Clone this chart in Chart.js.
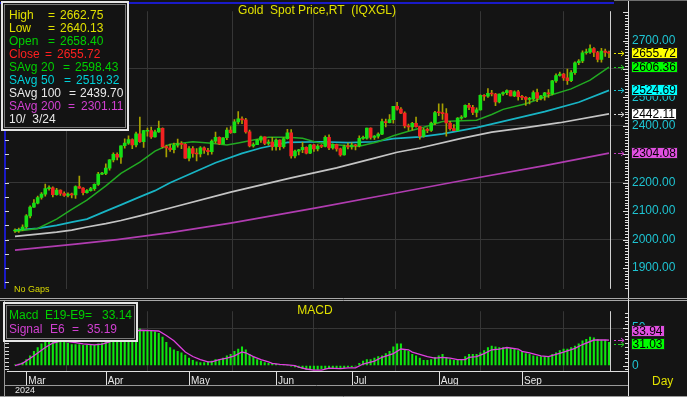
<!DOCTYPE html>
<html><head><meta charset="utf-8">
<script src="https://cdn.jsdelivr.net/npm/chart.js@4.4.1/dist/chart.umd.min.js"></script>
<style>
html,body{margin:0;padding:0;background:#141414;overflow:hidden;}
#wrap{position:relative;width:687px;height:397px;background:#141414;}
#c1{position:absolute;left:0;top:0;}
#c2{position:absolute;left:0;top:300px;}
</style></head><body>
<div id="wrap"><canvas id="c1" width="687" height="300"></canvas><canvas id="c2" width="687" height="97"></canvas></div>
<script>
// ---------------- DATA ----------------
const dates = ['2/27','2/28','2/29',
 '3/1','3/4','3/5','3/6','3/7','3/8','3/11','3/12','3/13','3/14','3/15','3/18','3/19','3/20','3/21','3/22','3/25','3/26','3/27','3/28','3/29',
 '4/1','4/2','4/3','4/4','4/5','4/8','4/9','4/10','4/11','4/12','4/15','4/16','4/17','4/18','4/19','4/22','4/23','4/24','4/25','4/26','4/29','4/30',
 '5/1','5/2','5/3','5/6','5/7','5/8','5/9','5/10','5/13','5/14','5/15','5/16','5/17','5/20','5/21','5/22','5/23','5/24','5/27','5/28','5/29','5/30','5/31',
 '6/3','6/4','6/5','6/6','6/7','6/10','6/11','6/12','6/13','6/14','6/17','6/18','6/19','6/20','6/21','6/24','6/25','6/26','6/27','6/28',
 '7/1','7/2','7/3','7/4','7/5','7/8','7/9','7/10','7/11','7/12','7/15','7/16','7/17','7/18','7/19','7/22','7/23','7/24','7/25','7/26','7/29','7/30','7/31',
 '8/1','8/2','8/5','8/6','8/7','8/8','8/9','8/12','8/13','8/14','8/15','8/16','8/19','8/20','8/21','8/22','8/23','8/26','8/27','8/28','8/29','8/30',
 '9/2','9/3','9/4','9/5','9/6','9/9','9/10','9/11','9/12','9/13','9/16','9/17','9/18','9/19','9/20','9/23','9/24','9/25','9/26','9/27','9/30',
 '10/1','10/2','10/3'];

const opens = [2030,2031,2034,
 2044,2083,2114,2128,2148,2160,2179,2182,2158,2174,2162,2155,2160,2157,2186,2181,2165,2172,2179,2194,2230,
 2233,2251,2280,2300,2290,2330,2339,2352,2333,2372,2344,2381,2383,2361,2379,2391,2327,2322,2316,2332,2337,2335,
 2286,2320,2303,2301,2323,2314,2309,2346,2360,2336,2358,2385,2376,2414,2425,2421,2379,2329,2334,2350,2361,2338,2343,
 2327,2350,2327,2355,2375,2294,2311,2316,2324,2304,2333,2319,2329,2328,2360,2322,2334,2319,2298,2327,
 2326,2332,2330,2356,2357,2392,2359,2364,2371,2415,2411,2422,2469,2459,2445,2400,2396,2409,2397,2364,2386,2384,2410,
 2447,2446,2443,2410,2390,2383,2427,2431,2472,2465,2447,2456,2507,2504,2514,2512,2484,2512,2517,2524,2505,2520,
 2503,2500,2493,2495,2517,2497,2506,2516,2512,2558,2577,2582,2569,2559,2587,2622,2628,2657,2659,2672,2658,
 2634,2663,2658.40];
const highs = [2038,2040,2052,
 2088,2119,2141,2153,2165,2195,2189,2185,2180,2175,2168,2164,2163,2189,2223,2183,2176,2184,2196,2236,2236,
 2266,2281,2305,2305,2330,2354,2365,2354,2378,2431,2384,2392,2396,2385,2417,2393,2332,2335,2339,2353,2345,2338,
 2327,2327,2320,2327,2326,2321,2351,2378,2361,2359,2393,2397,2422,2450,2432,2426,2385,2340,2352,2364,2361,2351,2360,
 2354,2351,2359,2388,2387,2315,2317,2342,2326,2335,2335,2334,2334,2365,2368,2337,2336,2322,2332,2339,
 2340,2335,2365,2364,2392,2393,2366,2375,2424,2424,2440,2469,2483,2464,2449,2406,2412,2431,2398,2391,2393,2413,2451,
 2477,2477,2461,2416,2404,2429,2436,2474,2479,2472,2463,2509,2510,2531,2525,2514,2513,2520,2527,2525,2523,2525,
 2507,2503,2500,2523,2529,2507,2518,2528,2560,2583,2589,2585,2600,2594,2625,2633,2664,2670,2685,2675,2662,
 2673,2670,2662.75];
const lows = [2025,2025,2031,
 2039,2076,2113,2125,2142,2153,2174,2150,2156,2155,2152,2150,2146,2145,2180,2157,2163,2170,2173,2190,2228,
 2228,2244,2273,2280,2268,2321,2335,2320,2326,2342,2324,2364,2356,2360,2377,2322,2291,2310,2305,2325,2320,2285,
 2277,2290,2277,2291,2303,2298,2300,2340,2334,2336,2351,2373,2375,2407,2408,2374,2326,2325,2334,2342,2334,2332,2314,
 2314,2315,2321,2353,2286,2287,2298,2306,2301,2302,2310,2312,2323,2326,2316,2318,2311,2293,2297,2319,
 2318,2315,2326,2352,2353,2353,2352,2357,2369,2396,2410,2409,2455,2443,2393,2384,2385,2395,2353,2360,2376,2380,2404,
 2436,2423,2364,2385,2382,2382,2423,2430,2457,2439,2431,2455,2489,2500,2505,2471,2481,2507,2510,2505,2503,2490,
 2492,2472,2477,2489,2485,2491,2490,2500,2509,2553,2575,2560,2546,2555,2581,2615,2622,2652,2655,2643,2625,
 2624,2644,2640.13];
const closes = [2031,2034,2044,
 2083,2114,2128,2148,2160,2179,2182,2158,2174,2162,2155,2160,2157,2186,2181,2165,2172,2179,2194,2230,2233,
 2251,2280,2300,2290,2330,2339,2352,2333,2372,2344,2383,2383,2361,2379,2391,2327,2322,2316,2332,2337,2335,2286,
 2320,2303,2301,2323,2314,2309,2346,2360,2336,2358,2385,2376,2414,2425,2421,2379,2329,2334,2350,2361,2338,2343,2327,
 2350,2327,2355,2375,2294,2311,2316,2324,2304,2333,2319,2329,2328,2360,2322,2334,2319,2298,2327,2326,
 2332,2330,2356,2357,2392,2359,2364,2371,2415,2411,2422,2469,2459,2445,2400,2396,2409,2397,2364,2386,2384,2410,2447,
 2446,2443,2410,2390,2383,2427,2431,2472,2465,2447,2456,2507,2504,2514,2512,2484,2512,2517,2524,2505,2520,2503,
 2500,2493,2495,2517,2497,2506,2516,2512,2558,2577,2582,2569,2559,2587,2622,2628,2657,2659,2672,2658,2634,
 2663,2658,2655.72];

// moving averages, read as [bar index, value]
const ma20 = [[0,2028],[6,2039],[11,2072],[15,2106],[19,2139],[24,2189],[28,2233],[33,2272],[37,2311],[41,2335],[44,2339],[47,2344],[52,2339],[56,2333],[59,2340],[63,2350],[67,2360],[72,2360],[76,2356],[80,2341],[84,2334],[88,2330],[91,2328],[96,2344],[100,2365],[104,2381],[108,2395],[113,2415],[118,2418],[122,2420],[126,2440],[129,2458],[135,2478],[141,2506],[147,2530],[152,2561],[157,2606.36]];
const ma50 = [[0,2033],[6,2039],[11,2050],[15,2061],[19,2072],[24,2100],[28,2122],[33,2150],[37,2172],[41,2200],[47,2235],[53,2270],[60,2303],[65,2322],[72,2342],[81,2344],[88,2341],[95,2344],[100,2355],[107,2361],[113,2372],[122,2394],[131,2422],[140,2450],[149,2483],[157,2524.69]];
const ma100 = [[0,2011],[6,2019],[11,2026],[15,2033],[19,2044],[24,2056],[28,2067],[33,2083],[41,2111],[57,2167],[73,2217],[85,2252],[94,2283],[101,2307],[107,2322],[118,2356],[126,2378],[135,2394],[144,2411],[157,2442.11]];
const ma200 = [[0,1963],[16,1984],[27,2000],[41,2024],[57,2058],[80,2112],[100,2162],[120,2212],[140,2260],[157,2304.08]];

// MACD histogram (one per bar) and signal line [bar index, value]
const macd = [1,2,4,8,13,19,24,29,34,37, 36,36,35,32,30,28,28,28,27,27, 27,27,29,30,32,36,40,41,45,48, 51,50,52,49,
 46,46,46,45,43,38,31,24,21,19, 17,14,10,7,5,4,4,5,6,8, 8,10,13,15,19,22,25,21,15,12, 8,6,4,3,3,2,1,1,0,-1, -2,-3,-4,-5,-5,-5,-5,-4,-4,-4,
 -4,-3,-4,-3,-2,-2,-1,
 3,6,8,8,10,12,13,16,19,25, 29,29,21,19,15,13,10,7,7,8, 11,13,15,11,8,7,8,8,12,15, 15,15,17,20,24,26,25,24,24,24, 23,22,20,18,16,15,13,12,12,12, 12,15,17,20,22,22,24,26,29,33, 35,38,37,35,34,34,31.03];
const signal = [[0,0],[2,3],[5,13],[8,24],[10,30],[12,32.5],[14,32],[16,30.5],[18,29],[21,27.5],[23,28.5],[25,31.5],[27,36],[29,41],[31,45],[33,47],[36,46.5],[38,46],[40,40],[42,33],[44,23],[45,18],[47,12],[49,8],[51,5],[52,5],[54,8],[56,10],[58,13],[60,18],[61,17],[63,12],[65,8],[67,5],[68,3],[70,1.5],[72,1],[74,0],[75,-2],[77,-4.6],[79,-6],[81,-6],[83,-3.5],[86,-4],[88,-3],[90,-3],[92,2],[95,6],[97,11],[100,16],[102,22],[104,21],[105,18],[107,15],[109,12],[111,10],[113,11],[115,10],[117,8],[119,8],[120,11],[122,12],[124,16],[126,21],[128,22],[130,24],[133,22],[134,19],[136,17],[139,13],[141,12],[143,15],[145,18],[148,23],[150,28],[153,34],[156,34],[157,33.94]];

// tick labels / text values
const priceTicks = [1900,2000,2100,2200,2300,2400,2500,2600,2700];
const macdTicks = [0,50];
const monthNums = [3,4,5,6,7,8,9];
const monthNames = ['Mar','Apr','May','Jun','Jul','Aug','Sep'];
const yearLabel = '2024';
const lastValues = [2655.72, 2606.36, 2524.69, 2442.11, 2304.08];
const legendValues = ['2662.75','2640.13','2658.40','2655.72','2598.43','2519.32','2439.70','2301.11'];
const legendDate = '10/  3/24';
const macdLegendValues = ['33.14','35.19'];
const macdLast = [33.94, 31.03];

// ---------------- RENDER ----------------
const FONT = "'Liberation Sans', Arial, Helvetica, sans-serif";
Chart.defaults.font.family = FONT;
const N = dates.length;
const monthIdx = monthNums.map(m => dates.findIndex(d => +d.split('/')[0] === m));
const X_MIN = -2.1145, X_MAX = 162.022;
const toPts = arr => arr.map(([x, y]) => ({x, y}));
const GRID = '#363636';
const YEL = '#e0e000', GRN = '#00d000', RED = '#ff2020', CYN = '#00d0d8', WHT = '#e8e8e8', MAG = '#d040d0';

function legendBox(ctx, x0, y0, x1, y1) {
  ctx.fillStyle = '#131313'; ctx.fillRect(x0, y0, x1 - x0, y1 - y0);
  ctx.strokeStyle = '#e6e6e6'; ctx.lineWidth = 2; ctx.strokeRect(x0 + 1, y0 + 1, x1 - x0 - 2, y1 - y0 - 2);
  ctx.strokeStyle = '#7a7a7a'; ctx.lineWidth = 1; ctx.strokeRect(x0 + 3.5, y0 + 3.5, x1 - x0 - 7, y1 - y0 - 7);
}
function drawRows(ctx, rows, y0, dy) {
  ctx.font = '12px ' + FONT; ctx.textAlign = 'left'; ctx.textBaseline = 'middle';
  rows.forEach((r, k) => {
    ctx.fillStyle = r.c;
    r.parts.forEach(([t, x]) => ctx.fillText(t, x, y0 + k * dy));
  });
}
function valBox(ctx, text, yc, bg) {
  ctx.font = '12px ' + FONT;
  const w = Math.ceil(ctx.measureText(text).width) + 3, h = 12;
  const top = Math.round(yc - 6);
  ctx.fillStyle = bg; ctx.fillRect(631, top, w, h);
  ctx.strokeStyle = '#202020'; ctx.lineWidth = 1; ctx.strokeRect(631.5, top + 0.5, w - 1, h - 1);
  ctx.fillStyle = '#000'; ctx.textAlign = 'left'; ctx.textBaseline = 'middle';
  ctx.fillText(text, 632.5, top + 6.5);
}
function arrow(ctx, x, y, color) {
  const yy = Math.round(y) + 0.5;
  ctx.strokeStyle = color; ctx.lineWidth = 1;
  ctx.beginPath(); ctx.moveTo(x - 4, yy); ctx.lineTo(x - 2, yy); ctx.stroke();
  ctx.beginPath(); ctx.moveTo(x, yy); ctx.lineTo(x + 6, yy); ctx.stroke();
  ctx.beginPath(); ctx.moveTo(x + 3, yy - 2.5); ctx.lineTo(x + 6, yy); ctx.lineTo(x + 3, yy + 2.5); ctx.stroke();
}

const mainDeco = {
  id: 'mainDeco',
  afterDraw(chart) {
    const {ctx, chartArea: a, scales: {x, y}} = chart;
    ctx.save();
    // blue panel frame
    ctx.fillStyle = '#1a1ac8';
    ctx.fillRect(0, 2, 614, 2);
    ctx.fillRect(4, 2, 2, a.bottom - 2);
    // left ticks
    ctx.strokeStyle = '#d8d8d8'; ctx.lineWidth = 1;
    for (let v = 1850; v <= 2800; v += 50) {
      const py = Math.round(y.getPixelForValue(v)) + 0.5;
      ctx.beginPath(); ctx.moveTo(5, py); ctx.lineTo(9, py); ctx.stroke();
    }
    // right axis line full height + minor ticks
    ctx.strokeStyle = '#e0e0e0';
    ctx.beginPath(); ctx.moveTo(628.5, 0); ctx.lineTo(628.5, 300); ctx.stroke();
    for (let v = 1830; v <= 2800; v += 10) {
      const py = Math.round(y.getPixelForValue(v)) + 0.5;
      const len = v % 100 === 0 ? 5 : 3;
      ctx.beginPath(); ctx.moveTo(628 - len, py); ctx.lineTo(628, py); ctx.stroke();
    }
    // separator lines
    ctx.strokeStyle = '#a8a8a8';
    ctx.beginPath(); ctx.moveTo(0, 298.5); ctx.lineTo(687, 298.5); ctx.stroke();
    ctx.strokeStyle = '#707070';
    ctx.beginPath(); ctx.moveTo(614, 0.5); ctx.lineTo(687, 0.5); ctx.stroke();
    // cursor line at last bar
    const cx = Math.round(x.getPixelForValue(N - 1)) + 1.5;
    ctx.strokeStyle = '#d0d0d0';
    ctx.beginPath(); ctx.moveTo(cx, a.top); ctx.lineTo(cx, a.bottom); ctx.stroke();
    // arrows + value boxes
    const cols = ['#e8e800', '#22cc22', '#18c0d0', '#d8d8d8', '#c040c0'];
    const boxCols = ['#ffff00', '#00ff00', '#00ffff', '#ffffff', '#e050e0'];
    lastValues.forEach((v, i) => {
      const py = y.getPixelForValue(v);
      arrow(ctx, 618, py, cols[i]);
    });
    lastValues.forEach((v, i) => {
      valBox(ctx, v.toFixed(2), y.getPixelForValue(v), boxCols[i]);
    });
    // legend box
    legendBox(ctx, 1, 1, 129, 131);
    drawRows(ctx, [
      {c: YEL, parts: [['High', 9], ['=', 48], [legendValues[0], 60]]},
      {c: YEL, parts: [['Low', 9], ['=', 48], [legendValues[1], 60]]},
      {c: GRN, parts: [['Open', 9], ['=', 48], [legendValues[2], 60]]},
      {c: RED, parts: [['Close', 9], ['=', 45], [legendValues[3], 57]]},
      {c: GRN, parts: [['SAvg', 9], ['20', 41], ['=', 63], [legendValues[4], 75]]},
      {c: CYN, parts: [['SAvg', 9], ['50', 41], ['=', 64], [legendValues[5], 76]]},
      {c: WHT, parts: [['SAvg', 9], ['100', 41], ['=', 69], [legendValues[6], 80]]},
      {c: MAG, parts: [['SAvg', 9], ['200', 41], ['=', 68], [legendValues[7], 81]]},
      {c: WHT, parts: [[legendDate, 9]]}
    ], 16, 13);
    // title
    ctx.font = '12px ' + FONT; ctx.fillStyle = YEL; ctx.textAlign = 'center'; ctx.textBaseline = 'middle';
    ctx.fillText('Gold  Spot Price,RT  (IQXGL)', 317, 11);
    // no gaps
    ctx.font = '9px ' + FONT; ctx.textAlign = 'left'; ctx.fillStyle = '#d8d800';
    ctx.fillText('No Gaps', 14, 290);
    ctx.restore();
  }
};

const macdDeco = {
  id: 'macdDeco',
  afterDraw(chart) {
    const {ctx, chartArea: a, scales: {x, y}} = chart;
    ctx.save();
    ctx.lineWidth = 1;
    // top separator
    ctx.strokeStyle = '#a8a8a8';
    ctx.beginPath(); ctx.moveTo(0, 0.5); ctx.lineTo(687, 0.5); ctx.stroke();
    // left border + ticks
    ctx.strokeStyle = '#9a9a9a';
    ctx.beginPath(); ctx.moveTo(4.5, 1); ctx.lineTo(4.5, 97); ctx.stroke();
    ctx.strokeStyle = '#d8d8d8';
    for (let v = -5; v <= 70; v += 5) {
      const py = Math.round(y.getPixelForValue(v)) + 0.5;
      ctx.beginPath(); ctx.moveTo(5, py); ctx.lineTo(9, py); ctx.stroke();
    }
    // right axis line + ticks
    ctx.strokeStyle = '#e0e0e0';
    ctx.beginPath(); ctx.moveTo(628.5, 0); ctx.lineTo(628.5, 97); ctx.stroke();
    for (let v = -5; v <= 70; v += 5) {
      const py = Math.round(y.getPixelForValue(v)) + 0.5;
      const len = v % 50 === 0 ? 5 : 3;
      ctx.beginPath(); ctx.moveTo(628 - len, py); ctx.lineTo(628, py); ctx.stroke();
    }
    // cursor line
    const cx = Math.round(x.getPixelForValue(N - 1)) + 1.5;
    ctx.strokeStyle = '#d0d0d0';
    ctx.beginPath(); ctx.moveTo(cx, a.top); ctx.lineTo(cx, a.bottom); ctx.stroke();
    // month separators in label row
    ctx.strokeStyle = '#e0e0e0';
    monthIdx.forEach(i => {
      const px = Math.round(x.getPixelForValue(i)) + 0.5;
      ctx.beginPath(); ctx.moveTo(px, a.bottom); ctx.lineTo(px, a.bottom + 14); ctx.stroke();
    });
    ctx.strokeStyle = '#9a9a9a';
    ctx.beginPath(); ctx.moveTo(5, a.bottom + 14.5); ctx.lineTo(628, a.bottom + 14.5); ctx.stroke();
    ctx.beginPath(); ctx.moveTo(0, 96.5); ctx.lineTo(687, 96.5); ctx.stroke();
    // year + Day
    ctx.font = '9px ' + FONT; ctx.fillStyle = WHT; ctx.textAlign = 'left'; ctx.textBaseline = 'middle';
    ctx.fillText(yearLabel, 15, a.bottom + 20);
    ctx.font = '12px ' + FONT; ctx.fillStyle = YEL;
    ctx.fillText('Day', 652, 82);
    // arrows + boxes
    const ySig = y.getPixelForValue(macdLast[0]), yMac = y.getPixelForValue(macdLast[1]);
    arrow(ctx, 618, ySig, '#d040d0');
    arrow(ctx, 618, yMac + 2, '#22cc22');
    const gy = yMac + 2;
    valBox(ctx, macdLast[1].toFixed(2), gy, '#00ff00');
    valBox(ctx, macdLast[0].toFixed(2), gy - 13, '#e050e0');
    // legend
    legendBox(ctx, 3, 2, 138, 42);
    drawRows(ctx, [
      {c: GRN, parts: [['Macd', 9], ['E19-E9', 45], ['=', 85], [macdLegendValues[0], 102]]},
      {c: MAG, parts: [['Signal', 9], ['E6', 50], ['=', 72], [macdLegendValues[1], 87]]}
    ], 16, 14);
    // title
    ctx.font = '12px ' + FONT; ctx.fillStyle = YEL; ctx.textAlign = 'center'; ctx.textBaseline = 'middle';
    ctx.fillText('MACD', 315, 11);
    ctx.restore();
  }
};

const bodyData = opens.map((o, i) => ({x: i, y: [Math.min(o, closes[i]), Math.max(o, closes[i])]}));
const bodyColors = opens.map((o, i) => closes[i] >= o ? '#16e016' : '#f22222');
const wickData = lows.map((l, i) => ({x: i, y: [l, highs[i]]}));

const xCommon = (showLabels) => ({
  type: 'linear', min: X_MIN, max: X_MAX, offset: false,
  afterBuildTicks: s => { s.ticks = monthIdx.map(v => ({value: v})); },
  grid: {color: GRID, drawTicks: false, lineWidth: 1},
  border: {display: showLabels, color: '#e0e0e0'},
  ticks: showLabels ? {
    display: true, autoSkip: false, maxRotation: 0, align: 'start', labelOffset: 2, padding: 4,
    color: WHT, font: {size: 10, family: FONT},
    callback: (v, i) => monthNames[i]
  } : {display: false},
  afterFit: s => { s.height = showLabels ? 26 : 0; }
});

new Chart(document.getElementById('c1'), {
  type: 'bar',
  data: {
    datasets: [
      {type: 'bar', data: bodyData, backgroundColor: bodyColors, barThickness: 3, minBarLength: 1, grouped: false, order: 0},
      {type: 'bar', data: wickData, backgroundColor: '#a6a000', barThickness: 1, grouped: false, order: 1},
      {type: 'line', data: toPts(ma20), borderColor: '#22aa22', borderWidth: 1.5, pointRadius: 0, order: 2},
      {type: 'line', data: toPts(ma50), borderColor: '#18b4c4', borderWidth: 1.7, pointRadius: 0, order: 3},
      {type: 'line', data: toPts(ma100), borderColor: '#c4c4c4', borderWidth: 1.7, pointRadius: 0, order: 4},
      {type: 'line', data: toPts(ma200), borderColor: '#b03cb0', borderWidth: 1.7, pointRadius: 0, order: 5}
    ]
  },
  options: {
    responsive: false, animation: false, events: [],
    layout: {padding: {left: 7, top: 4, right: 0, bottom: 3}},
    plugins: {legend: {display: false}, tooltip: {enabled: false}},
    scales: {
      x: xCommon(false),
      y: {
        position: 'right', min: 1826.667, max: 2803.333,
        afterBuildTicks: s => { s.ticks = priceTicks.map(v => ({value: v})); },
        afterFit: s => { s.width = 59; },
        ticks: {color: '#1ec4d2', font: {size: 12, family: FONT}, padding: 4, callback: v => Number(v).toFixed(2)},
        grid: {drawTicks: false, color: c => (c.tick && c.tick.value % 200 === 0) ? GRID : 'rgba(0,0,0,0)'},
        border: {display: true, color: '#e0e0e0'}
      }
    }
  },
  plugins: [mainDeco]
});

new Chart(document.getElementById('c2'), {
  type: 'bar',
  data: {
    datasets: [
      {type: 'line', data: toPts(signal), borderColor: '#e040e0', borderWidth: 1.3, pointRadius: 0, order: 0},
      {type: 'bar', data: macd.map((v, i) => ({x: i, y: v})), backgroundColor: '#0ee60e', barThickness: 1.4, grouped: false, order: 1}
    ]
  },
  options: {
    responsive: false, animation: false, events: [],
    layout: {padding: {left: 7, top: 2, right: 0, bottom: 0}},
    plugins: {legend: {display: false}, tooltip: {enabled: false}},
    scales: {
      x: xCommon(true),
      y: {
        position: 'right', min: -7.27, max: 72.4,
        afterBuildTicks: s => { s.ticks = macdTicks.map(v => ({value: v})); },
        afterFit: s => { s.width = 59; },
        ticks: {color: '#1ec4d2', font: {size: 12, family: FONT}, padding: 4, callback: v => String(v)},
        grid: {drawTicks: false, color: c => (c.tick && c.tick.value === 50) ? GRID : 'rgba(0,0,0,0)'},
        border: {display: true, color: '#e0e0e0'}
      }
    }
  },
  plugins: [macdDeco]
});
</script>
</body></html>
